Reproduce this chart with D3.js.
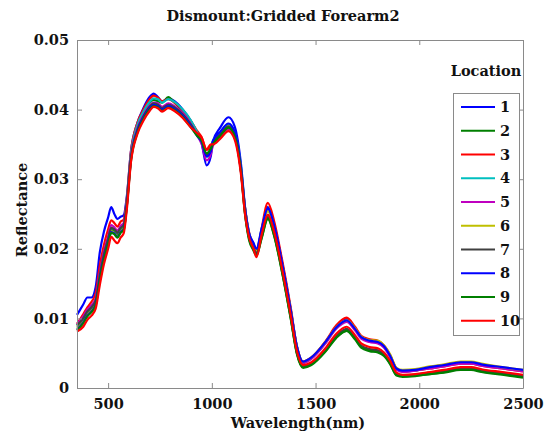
<!DOCTYPE html>
<html>
<head>
<meta charset="utf-8">
<script src="https://cdn.jsdelivr.net/npm/d3@7"></script>
<style>
  body { margin: 0; background: #fff; }
  svg text { font-family: "DejaVu Serif", serif; font-weight: bold; fill: #111; }
</style>
</head>
<body>
<div id="chart"></div>
<script>
// wavelength (nm) shared by all locations
var wavelength = [350, 380, 400, 420, 440, 460, 480, 500, 515, 530, 545, 560, 575, 590, 610, 640, 670, 700, 720, 740,
  760, 790, 820, 860, 900, 930, 950, 975, 995, 1005, 1040, 1080, 1110, 1140, 1160, 1180, 1200, 1215, 1240, 1270,
  1300, 1340, 1380, 1410, 1440, 1480, 1550, 1600, 1650, 1690, 1720, 1760, 1800, 1830, 1860, 1890, 1920, 1980, 2050, 2120,
  2200, 2250, 2300, 2400, 2500];

// reflectance per location, in units of 1e-3
var loc1 = [10.5, 12.0, 13.0, 13.0, 14.5, 19.5, 22.5, 24.5, 26.0, 25.0, 24.3, 24.6, 24.8, 27.5, 34.0, 38.0, 40.2, 41.8, 42.3, 41.8,
  41.2, 41.6, 41.2, 40.0, 38.3, 36.6, 35.3, 32.0, 33.3, 35.4, 37.4, 38.9, 37.6, 32.3, 26.0, 21.9, 20.3, 19.3, 22.6, 26.0,
  23.5, 17.8, 11.3, 5.9, 3.7, 4.3, 6.6, 8.8, 9.9, 8.6, 7.3, 6.8, 6.6, 5.9, 4.6, 2.7, 2.4, 2.5, 2.9, 3.2,
  3.6, 3.6, 3.3, 2.9, 2.5];
var loc2 = [8.8, 9.8, 10.8, 11.4, 12.4, 16.0, 19.0, 21.2, 22.8, 22.6, 22.1, 22.8, 23.2, 26.6, 33.4, 37.6, 39.7, 41.0, 41.4, 41.2,
  41.0, 41.8, 41.0, 39.8, 38.0, 36.5, 35.6, 33.6, 34.3, 35.2, 36.4, 37.5, 36.3, 31.3, 25.1, 21.4, 20.0, 19.2, 21.6, 24.4,
  22.0, 16.5, 10.1, 5.0, 3.0, 3.4, 5.4, 7.3, 8.2, 7.1, 5.9, 5.4, 5.2, 4.7, 3.5, 1.9, 1.7, 1.8, 2.0, 2.3,
  2.7, 2.7, 2.4, 2.0, 1.6];
var loc3 = [9.2, 10.6, 11.6, 12.4, 13.6, 17.6, 20.6, 22.8, 24.1, 23.7, 23.2, 23.9, 24.2, 27.2, 34.0, 38.0, 40.0, 41.5, 42.0, 41.7,
  41.2, 41.5, 41.0, 39.9, 38.3, 36.9, 36.1, 34.2, 34.8, 35.3, 36.3, 37.4, 36.2, 31.4, 25.9, 22.3, 20.6, 19.0, 22.9, 26.6,
  24.0, 18.2, 11.6, 6.0, 3.8, 4.4, 6.8, 9.0, 10.1, 8.8, 7.5, 7.0, 6.8, 6.1, 4.7, 2.8, 2.4, 2.5, 2.8, 3.1,
  3.5, 3.5, 3.2, 2.8, 2.4];
var loc4 = [9.0, 10.0, 11.0, 11.6, 12.6, 16.2, 19.2, 21.4, 23.0, 22.8, 22.3, 23.0, 23.4, 26.8, 33.6, 37.7, 39.7, 41.1, 41.6, 41.5,
  41.0, 41.5, 41.1, 40.0, 38.4, 36.7, 35.5, 33.2, 34.0, 35.5, 36.7, 37.9, 36.7, 31.8, 25.9, 22.2, 20.8, 19.8, 22.8, 25.7,
  23.3, 17.6, 11.2, 5.9, 3.7, 4.3, 6.6, 8.7, 9.7, 8.5, 7.2, 6.7, 6.5, 5.9, 4.5, 2.7, 2.4, 2.5, 2.9, 3.2,
  3.6, 3.6, 3.3, 2.9, 2.5];
var loc5 = [9.2, 10.3, 11.3, 11.9, 12.9, 16.6, 19.6, 21.8, 23.4, 23.1, 22.6, 23.3, 23.7, 26.7, 33.2, 37.2, 39.2, 40.6, 41.0, 40.9,
  40.4, 40.9, 40.5, 39.5, 37.9, 36.3, 35.1, 32.7, 33.6, 34.8, 36.0, 37.2, 36.0, 31.2, 25.6, 22.0, 20.6, 19.7, 22.6, 25.6,
  23.2, 17.5, 11.0, 5.8, 3.6, 4.2, 6.5, 8.5, 9.5, 8.3, 7.1, 6.6, 6.4, 5.8, 4.4, 2.6, 2.3, 2.5, 2.8, 3.1,
  3.5, 3.5, 3.2, 2.8, 2.4];
var loc6 = [8.6, 9.5, 10.5, 11.1, 12.1, 15.6, 18.6, 20.9, 22.5, 22.3, 21.8, 22.5, 22.9, 26.2, 32.8, 36.7, 38.7, 40.1, 40.6, 40.4,
  39.9, 40.4, 40.0, 39.0, 37.6, 36.3, 35.5, 33.5, 34.2, 35.2, 36.4, 37.6, 36.4, 31.5, 25.6, 22.0, 20.7, 19.8, 22.5, 25.4,
  23.1, 17.6, 11.3, 6.0, 3.8, 4.4, 6.7, 8.7, 9.7, 8.6, 7.4, 6.9, 6.8, 6.1, 4.8, 2.9, 2.6, 2.7, 3.1, 3.4,
  3.8, 3.8, 3.5, 3.0, 2.6];
var loc7 = [9.0, 10.0, 11.0, 11.6, 12.6, 16.2, 19.2, 21.4, 23.0, 22.8, 22.3, 23.0, 23.4, 26.5, 33.0, 37.0, 39.0, 40.4, 40.9, 40.7,
  40.2, 40.7, 40.3, 39.3, 37.8, 36.4, 35.6, 33.5, 34.2, 35.2, 36.4, 37.6, 36.4, 31.5, 25.3, 21.6, 20.2, 19.4, 21.9, 24.6,
  22.2, 16.7, 10.3, 5.1, 3.1, 3.5, 5.6, 7.5, 8.5, 7.3, 6.1, 5.6, 5.4, 4.9, 3.6, 2.0, 1.8, 1.9, 2.2, 2.5,
  2.9, 2.9, 2.6, 2.2, 1.8];
var loc8 = [8.4, 9.4, 10.4, 11.0, 12.0, 15.6, 18.6, 20.8, 22.4, 22.2, 21.7, 22.4, 22.8, 26.2, 32.8, 36.8, 38.8, 40.2, 40.7, 40.5,
  40.0, 40.5, 40.1, 39.1, 37.6, 36.2, 35.4, 33.3, 34.0, 35.5, 36.8, 38.0, 36.8, 31.8, 25.8, 22.2, 20.9, 20.0, 22.9, 25.8,
  23.4, 17.8, 11.3, 6.0, 3.8, 4.4, 6.7, 8.7, 9.7, 8.5, 7.3, 6.8, 6.6, 6.0, 4.6, 2.8, 2.5, 2.6, 3.0, 3.3,
  3.7, 3.7, 3.4, 3.0, 2.6];
var loc9 = [8.3, 9.3, 10.3, 10.9, 11.9, 15.5, 18.5, 20.7, 22.3, 22.1, 21.6, 22.3, 22.7, 26.0, 32.6, 36.6, 38.6, 40.0, 40.5, 40.3,
  39.8, 40.3, 39.9, 38.9, 37.4, 36.2, 35.6, 33.7, 34.4, 35.0, 36.2, 37.4, 36.2, 31.2, 25.0, 21.2, 19.8, 19.0, 21.5, 24.3,
  21.9, 16.4, 10.0, 4.9, 2.9, 3.3, 5.3, 7.2, 8.2, 7.0, 5.8, 5.3, 5.1, 4.6, 3.4, 1.8, 1.6, 1.7, 2.0, 2.2,
  2.6, 2.6, 2.3, 1.9, 1.5];
var loc10 = [8.1, 8.8, 9.8, 10.4, 11.4, 14.8, 17.8, 20.0, 21.7, 21.2, 20.8, 21.6, 22.2, 25.6, 32.4, 36.4, 38.4, 39.8, 40.4, 40.2,
  39.7, 40.2, 39.8, 38.8, 37.4, 36.6, 36.0, 34.3, 35.0, 35.0, 35.8, 36.9, 35.7, 30.8, 25.0, 21.6, 20.1, 18.8, 22.0, 24.9,
  22.5, 16.9, 10.5, 5.3, 3.3, 3.7, 5.8, 7.8, 8.8, 7.6, 6.4, 5.9, 5.7, 5.1, 3.9, 2.2, 1.9, 2.0, 2.3, 2.6,
  3.0, 3.0, 2.7, 2.3, 1.9];

var locationNames = ['1', '2', '3', '4', '5', '6', '7', '8', '9', '10'];
var xTicks = [500, 1000, 1500, 2000, 2500];
var yTicks = [0, 0.01, 0.02, 0.03, 0.04, 0.05];

var series = [loc1, loc2, loc3, loc4, loc5, loc6, loc7, loc8, loc9, loc10];
var colors = ['#0000ff', '#007f00', '#ff0000', '#00bfbf', '#bf00bf', '#bfbf00', '#404040', '#0000ff', '#007f00', '#ff0000'];

var W = 554, H = 439;
var margin = {top: 40, right: 31, bottom: 51, left: 77},
    width = W - margin.left - margin.right,
    height = H - margin.top - margin.bottom;

var x = d3.scaleLinear().domain([350, 2500]).range([0, width]);
var y = d3.scaleLinear().domain([0, 0.05]).range([height, 0]);

var svg = d3.select('#chart').append('svg')
    .attr('width', W)
    .attr('height', H);

var g = svg.append('g')
    .attr('transform', 'translate(' + margin.left + ',' + margin.top + ')');

// Title
svg.append('text')
    .attr('x', 283)
    .attr('y', 21)
    .attr('text-anchor', 'middle')
    .style('font-size', '14.5px')
    .text('Dismount:Gridded Forearm2');

// Lines
var line = d3.line()
    .x(function(d, i) { return x(wavelength[i]); })
    .y(function(d) { return y(d * 1e-3); })
    .curve(d3.curveMonotoneX);

g.selectAll('.spec')
    .data(series)
    .enter().append('path')
    .attr('class', 'spec')
    .attr('d', line)
    .attr('fill', 'none')
    .attr('stroke', function(d, i) { return colors[i]; })
    .attr('stroke-width', 2.2)
    .attr('stroke-linejoin', 'round');

// Axes (box with inward ticks)
var axisColor = '#8a8a8a';
var xAxis = d3.axisBottom(x).tickValues(xTicks).tickSizeInner(-5).tickSizeOuter(0).tickPadding(11).tickFormat(d3.format('d'));
var yAxis = d3.axisLeft(y).tickValues(yTicks).tickSizeInner(-5).tickSizeOuter(0).tickPadding(8)
    .tickFormat(function(d) { return d === 0 ? '0' : d3.format('.2f')(d); });

var gx = g.append('g').attr('transform', 'translate(0,' + height + ')').call(xAxis);
var gy = g.append('g').call(yAxis);
var gxTop = g.append('g').call(d3.axisTop(x).tickValues(xTicks).tickSizeInner(-5).tickSizeOuter(0).tickFormat(''));
var gyRight = g.append('g').attr('transform', 'translate(' + width + ',0)')
    .call(d3.axisRight(y).tickValues(yTicks).tickSizeInner(-5).tickSizeOuter(0).tickFormat(''));

[gx, gy, gxTop, gyRight].forEach(function(a) {
  a.select('.domain').attr('stroke', axisColor);
  a.selectAll('.tick line').attr('stroke', axisColor);
  a.selectAll('.tick text')
    .attr('fill', '#111')
    .style('font-family', '"DejaVu Serif", serif')
    .style('font-weight', 'bold')
    .style('font-size', '14.5px');
});

// Axis labels
svg.append('text')
    .attr('x', 298)
    .attr('y', 428)
    .attr('text-anchor', 'middle')
    .style('font-size', '14.5px')
    .text('Wavelength(nm)');

svg.append('text')
    .attr('transform', 'translate(27,210) rotate(-90)')
    .attr('text-anchor', 'middle')
    .style('font-size', '14.5px')
    .text('Reflectance');

// Legend
svg.append('text')
    .attr('x', 486)
    .attr('y', 76)
    .attr('text-anchor', 'middle')
    .style('font-size', '14.5px')
    .text('Location');

svg.append('rect')
    .attr('x', 453.5)
    .attr('y', 93.5)
    .attr('width', 66)
    .attr('height', 242)
    .attr('fill', '#fff')
    .attr('stroke', axisColor);

var legend = svg.selectAll('.legend')
    .data(locationNames)
    .enter().append('g')
    .attr('class', 'legend')
    .attr('transform', function(d, i) { return 'translate(0,' + (107 + i * 23.74) + ')'; });

legend.append('line')
    .attr('x1', 461)
    .attr('x2', 495)
    .attr('stroke', function(d, i) { return colors[i]; })
    .attr('stroke-width', 2);

legend.append('text')
    .attr('x', 500)
    .attr('y', 0)
    .attr('dy', '0.36em')
    .style('font-size', '14.5px')
    .text(function(d) { return d; });
</script>
</body>
</html>
